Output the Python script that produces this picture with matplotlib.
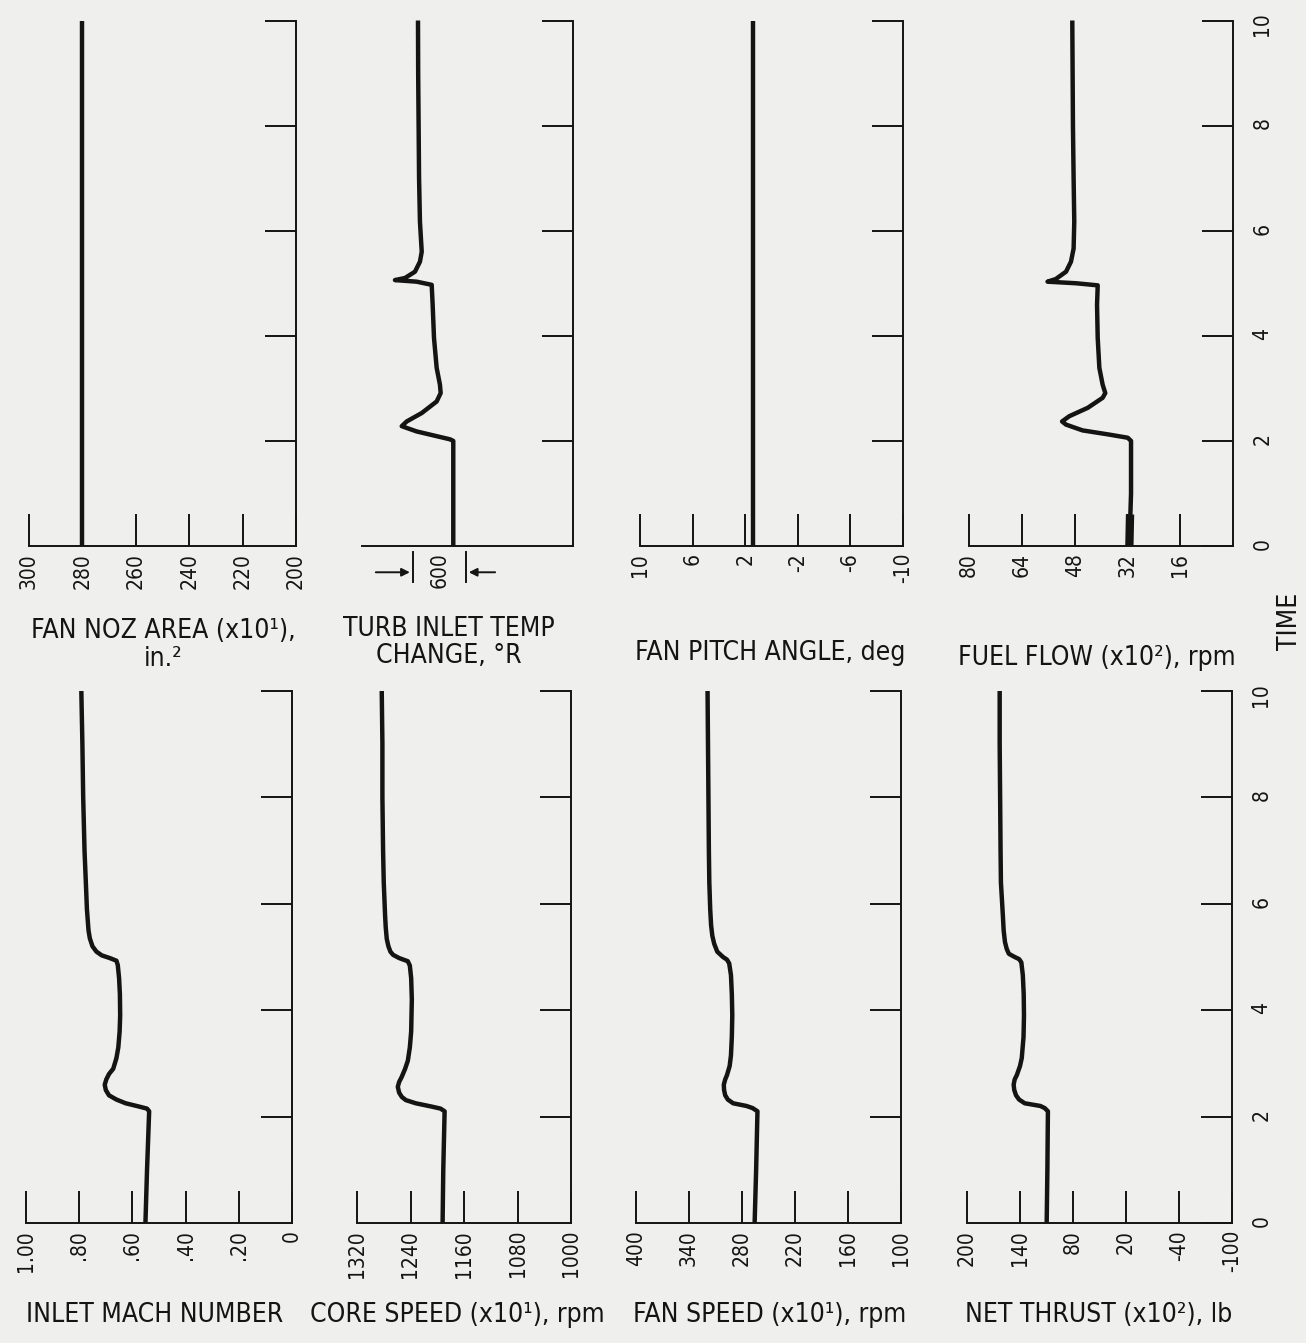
import numpy as np
import matplotlib
matplotlib.use('Agg')
import matplotlib.pyplot as plt
from matplotlib import font_manager
from matplotlib.transforms import blended_transform_factory

# the scan uses a tall narrow typeface; take DejaVu condensed if the system has it
has_cond = any(f.name == 'DejaVu Sans' and f.stretch == 'condensed'
               for f in font_manager.fontManager.ttflist)
plt.rcParams['font.family'] = ['DejaVu Sans']
if has_cond:
    plt.rcParams['font.stretch'] = 'condensed'

#%% data (time in s, values in plotted units)
t_mach = [0, 1, 2.1, 2.15, 2.19, 2.25, 2.32, 2.4, 2.5, 2.6, 2.7, 2.8, 2.9, 3.1, 3.3, 3.6, 3.9,
          4.3, 4.6, 4.85, 4.93, 4.98, 5.03, 5.1, 5.2, 5.35, 5.5, 5.9, 6.4, 7, 8, 9, 10]
mach = [0.551, 0.545, 0.537, 0.545, 0.576, 0.625, 0.66, 0.688, 0.700, 0.704, 0.698, 0.688, 0.672,
        0.660, 0.653, 0.648, 0.646, 0.647, 0.650, 0.655, 0.660, 0.685, 0.715, 0.735, 0.750, 0.760,
        0.765, 0.771, 0.775, 0.780, 0.785, 0.788, 0.792]

t_core = [0, 1, 2.1, 2.15, 2.19, 2.25, 2.31, 2.37, 2.45, 2.56, 2.65, 2.75, 2.9, 3.05, 3.3, 3.6,
          4.2, 4.6, 4.84, 4.92, 4.98, 5.04, 5.1, 5.2, 5.34, 5.55, 5.78, 6.4, 7, 8, 9, 10]
core_speed = [1192, 1191, 1189, 1195, 1209, 1232, 1247, 1253, 1257, 1259, 1257, 1253, 1248, 1244,
              1241, 1239, 1238, 1239, 1241, 1244, 1257, 1266, 1270, 1273, 1275.5, 1277, 1278, 1280,
              1281, 1282, 1282, 1283]

t_fan = [0, 1, 2.1, 2.16, 2.2, 2.25, 2.32, 2.4, 2.5, 2.6, 2.7, 2.78, 2.95, 3.15, 3.5, 3.9, 4.3,
         4.66, 4.88, 4.95, 5.0, 5.1, 5.25, 5.4, 5.6, 5.9, 6.4, 7, 8, 9, 10]
fan_speed = [265.7, 264, 262.5, 268, 275, 290, 296, 299, 300.3, 300.6, 299, 297, 294, 292.5, 291.5,
             291, 291.5, 292.5, 294.5, 297, 301.5, 308, 311.5, 313.6, 315, 316, 317, 317.5, 318,
             318.5, 319]

t_thrust = [0, 1, 2.1, 2.16, 2.2, 2.25, 2.32, 2.4, 2.5, 2.6, 2.7, 2.78, 2.95, 3.1, 3.5, 3.9, 4.3,
            4.66, 4.9, 4.96, 5.0, 5.06, 5.15, 5.28, 5.5, 5.78, 6.4, 7, 8, 9, 10]
thrust = [109.8, 109, 108.4, 112, 117, 134.6, 141, 144.5, 146.5, 147.2, 146, 143.6, 140, 138, 136,
          135.5, 135.8, 136.8, 138.5, 141, 146, 152.6, 155, 157, 158.5, 159.4, 161.6, 162, 162.5,
          163, 163]

t_tit = [0, 1, 2.0, 2.03, 2.09, 2.18, 2.28, 2.37, 2.53, 2.75, 2.91, 3.07, 3.39, 3.96, 4.59, 4.97,
         5.03, 5.06, 5.1, 5.22, 5.41, 5.6, 6.17, 7, 8, 9, 10]
tit_change = [0, 0, 0, 37, 187, 412, 580, 524, 355, 187, 142, 150, 187, 217, 232, 243, 412, 656,
              543, 431, 375, 355, 375, 385, 390, 395, 397]

t_fuel = [0, 1, 2.0, 2.06, 2.12, 2.2, 2.31, 2.37, 2.47, 2.63, 2.82, 2.91, 3.07, 3.39, 3.96, 4.59,
          4.96, 5.0, 5.03, 5.08, 5.22, 5.41, 5.66, 6.17, 7, 8, 9, 10]
fuel_flow = [31.4, 30.9, 30.9, 31.9, 37.5, 45.6, 50.6, 51.8, 49.6, 44, 39.5, 38.7, 39.5, 40.5, 41,
             41.2, 41, 47.6, 56.2, 53.7, 50.6, 49.1, 48.3, 48.1, 48.3, 48.5, 48.6, 48.7]
t_fuel_thick = [0, 0.6]
fuel_thick = [31.4, 31.2]

t_const = [0, 10]
noz_area = [280, 280]
pitch = [1.4, 1.4]

time_ticks = [0, 2, 4, 6, 8, 10]

# tick values / labels for each value axis
noz_ticks = [300, 280, 260, 240, 220, 200]
pitch_ticks = [10, 6, 2, -2, -6, -10]
fuel_ticks = [80, 64, 48, 32, 16]
mach_ticks = [1.0, 0.8, 0.6, 0.4, 0.2, 0.0]
mach_labels = ['1.00', '.80', '.60', '.40', '.20', '0']
core_ticks = [1320, 1240, 1160, 1080, 1000]
fan_ticks = [400, 340, 280, 220, 160, 100]
thrust_ticks = [200, 140, 80, 20, -40, -100]

#%% layout helpers (pixel positions of the original sheet)
W, H = 1306, 1343
fig = plt.figure(figsize=(W / 100, H / 100), dpi=100)
fig.patch.set_facecolor('#efefed')
ink = '#141414'
lw_ax = 1.4
lw_curve = 3.2
tick_fs = 15 if has_cond else 13.5
lab_fs = 19 if has_cond else 15.5


def make_ax(x0, x1, ytop, ybot, xlim, ticks=None, labels=None, time_labels=False):
    ax = fig.add_axes([x0 / W, 1 - ybot / H, (x1 - x0) / W, (ybot - ytop) / H])
    ax.set_facecolor('none')
    ax.set_xlim(*xlim)
    ax.set_ylim(0, 10)
    for s in ['top', 'left']:
        ax.spines[s].set_visible(False)
    for s in ['right', 'bottom']:
        ax.spines[s].set_linewidth(lw_ax)
        ax.spines[s].set_color(ink)
    ax.yaxis.tick_right()
    if time_labels:
        ax.set_yticks(time_ticks)
        ax.set_yticklabels([str(v) for v in time_ticks])
        ax.tick_params(axis='y', labelright=True, labelrotation=90, pad=14,
                       labelsize=tick_fs, labelcolor=ink)
    else:
        ax.set_yticks(time_ticks[1:])
        ax.tick_params(axis='y', labelright=False)
    ax.tick_params(axis='y', direction='in', length=22, width=lw_ax, color=ink)
    if ticks is None:
        ax.set_xticks([])
    else:
        ax.set_xticks(ticks)
        ax.set_xticklabels(labels if labels else [str(v) for v in ticks])
        ax.tick_params(axis='x', direction='in', length=23, width=lw_ax, color=ink,
                       labelrotation=90, pad=5, labelsize=tick_fs, labelcolor=ink)
    return ax


def trace(ax, t, v, lw=lw_curve):
    ax.plot(v, t, color=ink, lw=lw, solid_joinstyle='round', solid_capstyle='butt', clip_on=False)


# top half: time 0 at y=546, 10 at y=20.5
yt, yb = 20.5, 546
ax_noz = make_ax(29, 296, yt, yb, (300, 200), noz_ticks)
trace(ax_noz, t_const, noz_area)

ax_tit = make_ax(362, 573, yt, yb, (1027, -1347))
trace(ax_tit, t_tit, tit_change)

ax_pitch = make_ax(640, 903, yt, yb, (10, -10), pitch_ticks)
trace(ax_pitch, t_const, pitch)

ax_fuel = make_ax(969, 1233, yt, yb, (80, 0), fuel_ticks, time_labels=True)
trace(ax_fuel, t_fuel, fuel_flow)
trace(ax_fuel, t_fuel_thick, fuel_thick, lw=6)

# bottom half: time 0 at y=1223, 10 at y=691
yt, yb = 691, 1223
ax_mach = make_ax(26, 292, yt, yb, (1.0, 0.0), mach_ticks, mach_labels)
trace(ax_mach, t_mach, mach)

ax_core = make_ax(357, 571, yt, yb, (1320, 1000), core_ticks)
trace(ax_core, t_core, core_speed)

ax_fan = make_ax(636, 901, yt, yb, (400, 100), fan_ticks)
trace(ax_fan, t_fan, fan_speed)

ax_thr = make_ax(967, 1232, yt, yb, (200, -100), thrust_ticks, time_labels=True)
trace(ax_thr, t_thrust, thrust)

#%% 600 deg R scale marker under the TIT panel
tr = blended_transform_factory(ax_tit.transData, ax_tit.transAxes)
for xm in [457, -143]:
    ax_tit.plot([xm, xm], [-0.012, -0.068], color=ink, lw=lw_ax, transform=tr, clip_on=False)
ax_tit.annotate('', xy=(457, -0.05), xytext=(903, -0.05), xycoords=tr, textcoords=tr,
                arrowprops=dict(arrowstyle='-|>', color=ink, lw=lw_ax, mutation_scale=12))
ax_tit.annotate('', xy=(-143, -0.05), xytext=(-502, -0.05), xycoords=tr, textcoords=tr,
                arrowprops=dict(arrowstyle='-|>', color=ink, lw=lw_ax, mutation_scale=12))
ax_tit.text(157, -0.012, '600', transform=tr, rotation=90, ha='center', va='top',
            fontsize=tick_fs, color=ink)

#%% axis titles
def label(x, y, s, **kw):
    fig.text(x / W, 1 - y / H, s, ha='center', va='center', fontsize=lab_fs, color=ink,
             linespacing=1.05, **kw)


label(163, 645, 'FAN NOZ AREA (x10¹),\nin.²')
label(449, 642, 'TURB INLET TEMP\nCHANGE, °R')
label(770, 653, 'FAN PITCH ANGLE, deg')
label(1097, 658, 'FUEL FLOW (x10²), rpm')
label(1290, 621, 'TIME', rotation=90)

label(155, 1315, 'INLET MACH NUMBER')
label(457, 1315, 'CORE SPEED (x10¹), rpm')
label(770, 1315, 'FAN SPEED (x10¹), rpm')
label(1099, 1315, 'NET THRUST (x10²), lb')

fig.savefig('out.png', dpi=100, facecolor=fig.get_facecolor())
